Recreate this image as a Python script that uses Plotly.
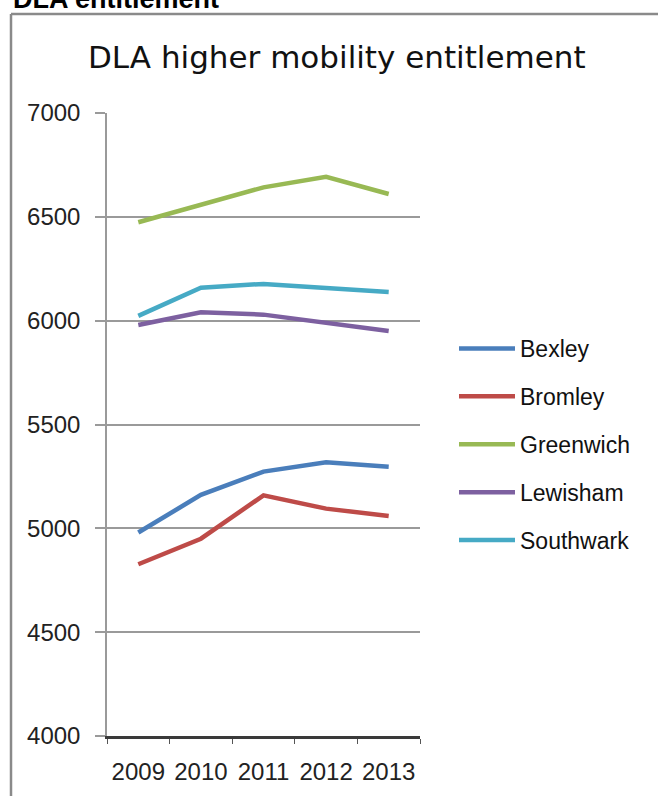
import plotly.graph_objects as go

# Financial years and DLA higher-rate mobility caseloads by borough
years = ["2009", "2010", "2011", "2012", "2013"]
bexley = [4980, 5161, 5273, 5318, 5297]
bromley = [4827, 4950, 5159, 5095, 5059]
greenwich = [6474, 6557, 6642, 6693, 6610]
lewisham = [5979, 6040, 6029, 5990, 5950]
southwark = [6023, 6159, 6177, 6157, 6138]

series = [
    ("Bexley", bexley, "#4A7EBB"),
    ("Bromley", bromley, "#BE4B48"),
    ("Greenwich", greenwich, "#98B954"),
    ("Lewisham", lewisham, "#7D60A0"),
    ("Southwark", southwark, "#46AAC5"),
]

W, H = 658, 796
ML, MR, MT, MB = 107, 238, 113, 60
PW, PH = W - ML - MR, H - MT - MB


def px_x(x):
    return (x - ML) / PW


def px_y(y):
    return (H - MB - y) / PH


FONT = "Liberation Sans"

fig = go.Figure()
for i, (name, vals, col) in enumerate(series):
    fig.add_trace(go.Scatter(
        x=years, y=vals, name=name, mode="lines",
        line=dict(color=col, width=4.5),
        legendgroup=f"g{i}",
    ))

fig.update_layout(
    width=W, height=H,
    margin=dict(l=ML, r=MR, t=MT, b=MB),
    paper_bgcolor="white", plot_bgcolor="white",
    font=dict(family=FONT, color="#222"),
    showlegend=True,
    legend=dict(
        x=px_x(454), y=px_y(327), xanchor="left", yanchor="top",
        font=dict(size=23, family=FONT, color="#111"),
        tracegroupgap=15, bgcolor="rgba(0,0,0,0)",
        itemwidth=56,
    ),
    xaxis=dict(
        type="category", range=[-0.5, 4.5],
        showgrid=False, showline=True, linecolor="#3a3a3a", linewidth=2.5,
        ticks="outside", tickson="boundaries", ticklen=5,
        tickcolor="#555", tickwidth=1,
        tickfont=dict(size=24, family=FONT, color="#222"),
        ticklabelstandoff=12,
        zeroline=False, fixedrange=True,
    ),
    yaxis=dict(
        range=[4000, 7000], dtick=500, tick0=4000,
        showgrid=True, gridcolor="#9a9a9a", gridwidth=1.5,
        showline=True, linecolor="#9a9a9a", linewidth=1.5,
        ticks="outside", ticklen=10, tickcolor="#9a9a9a", tickwidth=1.5,
        tickfont=dict(size=24, family=FONT, color="#222"),
        ticklabelstandoff=10,
        zeroline=False, fixedrange=True,
    ),
    shapes=[
        # chart frame
        dict(type="line", xref="paper", yref="paper",
             x0=px_x(11), x1=px_x(W + 5), y0=px_y(14), y1=px_y(14),
             line=dict(color="#8a8a8a", width=2.5)),
        dict(type="line", xref="paper", yref="paper",
             x0=px_x(11), x1=px_x(11), y0=px_y(14), y1=px_y(H + 5),
             line=dict(color="#8a8a8a", width=2.5)),
    ],
    annotations=[
        dict(text="DLA higher mobility entitlement", xref="paper", yref="paper",
             x=px_x(337), y=px_y(57), xanchor="center", yanchor="middle",
             showarrow=False, font=dict(size=31, family="DejaVu Sans", color="#111")),
        dict(text="<b>DLA entitlement</b>", xref="paper", yref="paper",
             x=px_x(11), y=px_y(16), xanchor="left", yanchor="bottom",
             showarrow=False, font=dict(size=27, family=FONT, color="#000")),
    ],
)

fig.write_html("out.html")
